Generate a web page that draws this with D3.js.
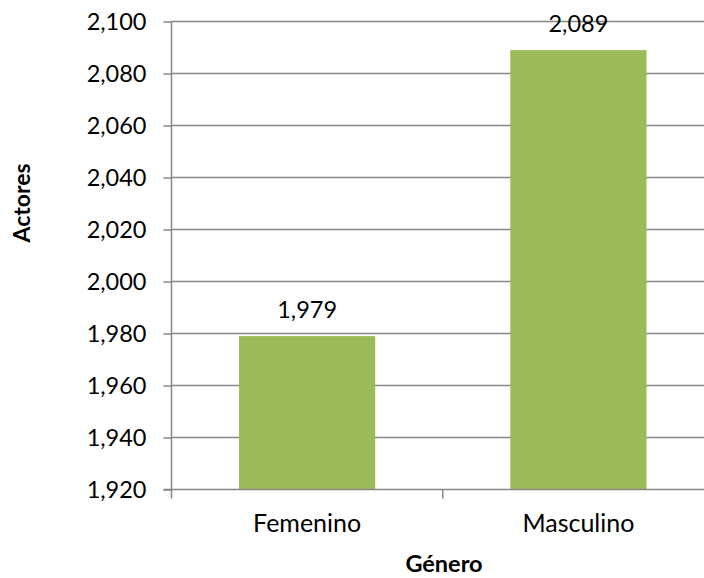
<!DOCTYPE html>
<html>
<head>
<meta charset="utf-8">
<script src="https://cdn.jsdelivr.net/npm/d3@7"></script>
<style>
html,body{margin:0;padding:0;background:#fff;}
svg{display:block;}
text{font-family:Lato,"Open Sans",sans-serif;fill:#000;}
</style>
</head>
<body>
<svg id="chart" width="704" height="578"></svg>
<script>
const categories = ["Femenino", "Masculino"];
const values = [1979, 2089];
const yTicks = [1920, 1940, 1960, 1980, 2000, 2020, 2040, 2060, 2080, 2100];
const yTitle = "Actores";
const xTitle = "Género";

const svg = d3.select("#chart");
const pLeft = 171.5, pRight = 714, pTop = 21.5, pBottom = 489.5;
const gridColor = "#878787";

const x = d3.scaleBand().domain(categories).range([pLeft, pRight]).paddingInner(0).paddingOuter(0);
const y = d3.scaleLinear().domain([1920, 2100]).range([pBottom, pTop]);
const fmt = d3.format(",");

// gridlines
svg.append("g").selectAll("line").data(yTicks.slice(1)).join("line")
  .attr("x1", pLeft).attr("x2", 704)
  .attr("y1", d => y(d)).attr("y2", d => y(d))
  .attr("stroke", gridColor).attr("stroke-width", 1.5);

// bars
const bw = x.bandwidth() * 0.502;
svg.append("g").selectAll("rect").data(categories).join("rect")
  .attr("x", (d) => x(d) + (x.bandwidth() - bw) / 2)
  .attr("width", bw)
  .attr("y", (d, i) => y(values[i]))
  .attr("height", (d, i) => y(1920) - y(values[i]))
  .attr("fill", "#9BBB59");

// y axis
const yAxis = d3.axisLeft(y).tickValues(yTicks).tickFormat(fmt).tickSize(8).tickPadding(17);
const gy = svg.append("g").attr("transform", `translate(${pLeft},0)`).call(yAxis);
gy.select(".domain").attr("stroke", gridColor).attr("stroke-width", 1.5).attr("d", `M0,${pBottom}V${pTop}`);
gy.selectAll(".tick line").attr("stroke", gridColor).attr("stroke-width", 1.5);
gy.selectAll(".tick text").style("font-family", "Lato,sans-serif").style("font-size", "23.5px").attr("fill", "#000").attr("dy", "0.36em");

// x axis line and boundary ticks
svg.append("line").attr("x1", pLeft - 8).attr("x2", 704).attr("y1", pBottom).attr("y2", pBottom)
  .attr("stroke", gridColor).attr("stroke-width", 1.5);
const bounds = [x(categories[0]), x(categories[1]), x(categories[1]) + x.bandwidth()];
svg.append("g").selectAll("line").data(bounds).join("line")
  .attr("x1", d => d).attr("x2", d => d).attr("y1", pBottom).attr("y2", pBottom + 9)
  .attr("stroke", gridColor).attr("stroke-width", 1.5);

// category labels
svg.append("g").selectAll("text").data(categories).join("text")
  .attr("x", d => x(d) + x.bandwidth() / 2).attr("y", 532)
  .attr("text-anchor", "middle").style("font-size", "25px").text(d => d);

// data labels
svg.append("g").selectAll("text").data(categories).join("text")
  .attr("x", d => x(d) + x.bandwidth() / 2)
  .attr("y", (d, i) => y(values[i]) - 18)
  .attr("text-anchor", "middle").style("font-size", "23.5px").text((d, i) => fmt(values[i]));

// axis titles
svg.append("text").attr("x", 444).attr("y", 572)
  .attr("text-anchor", "middle").style("font-size", "23.5px").style("font-weight", "bold").text(xTitle);
svg.append("text").attr("transform", "translate(30,203) rotate(-90)")
  .attr("text-anchor", "middle").style("font-size", "23px").style("font-weight", "bold").text(yTitle);
</script>
</body>
</html>
